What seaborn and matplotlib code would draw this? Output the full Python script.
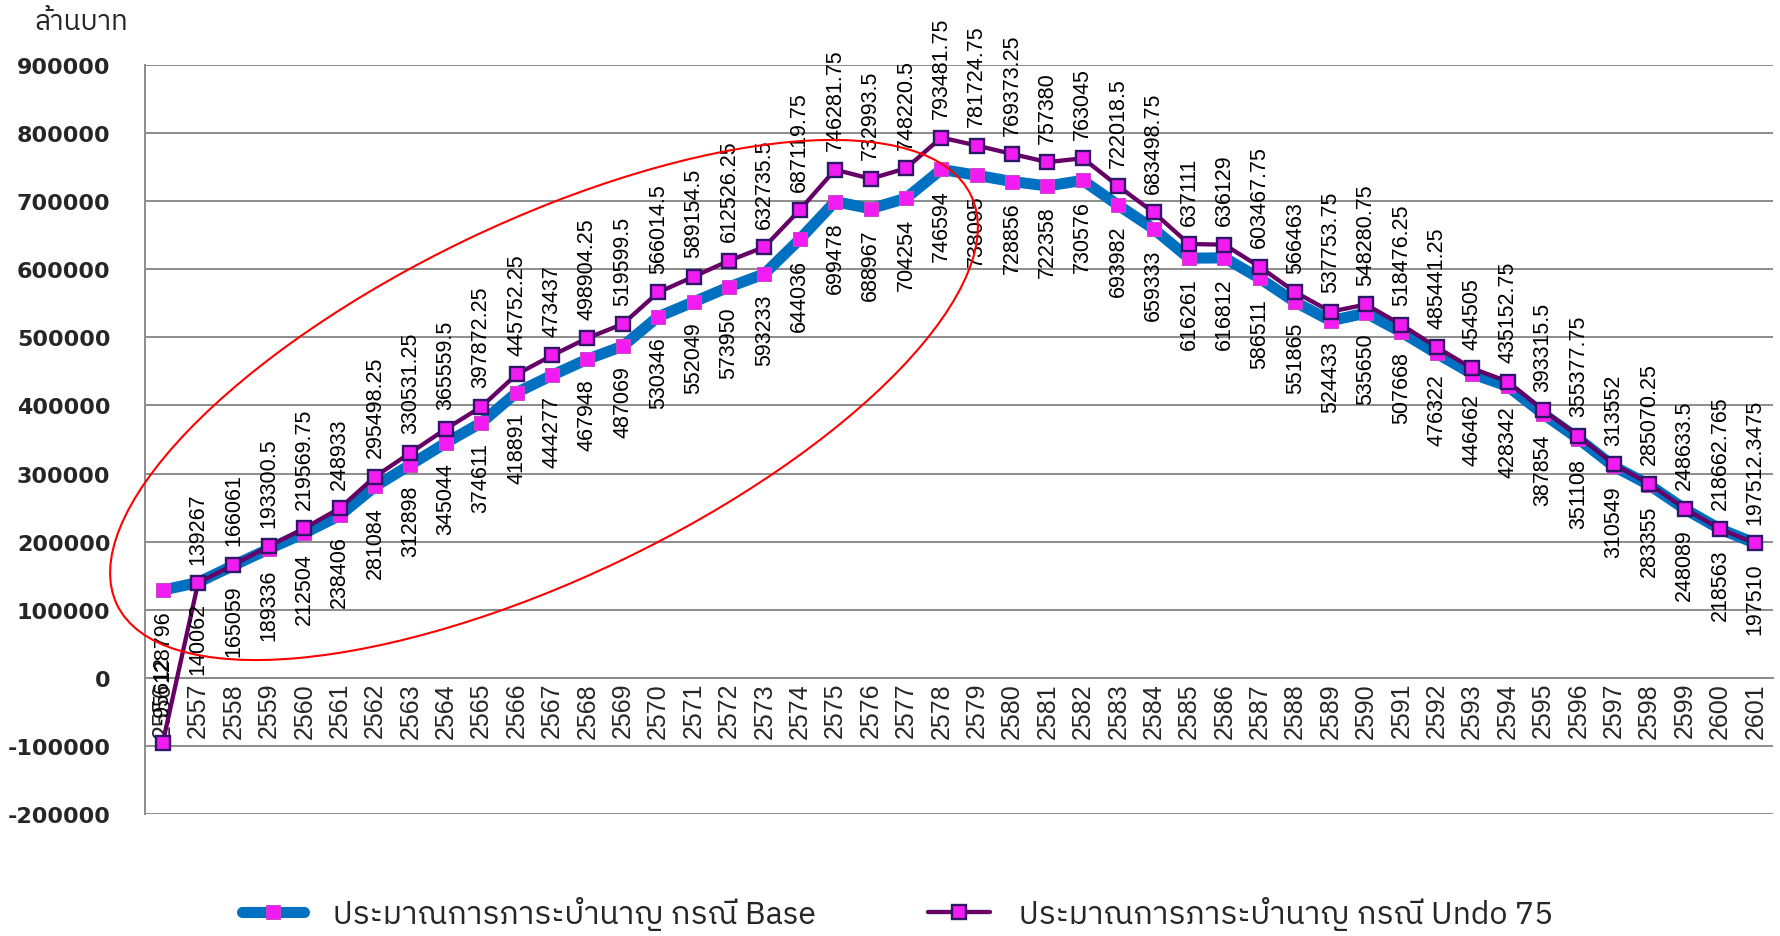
import matplotlib
matplotlib.use('Agg')
import matplotlib.pyplot as plt
import seaborn as sns
import numpy as np
import pandas as pd
from matplotlib import font_manager
from matplotlib.ft2font import FT2Font
from matplotlib.patches import Ellipse
from matplotlib.lines import Line2D

# ---------------- data ----------------
years = ['2556', '2557', '2558', '2559', '2560', '2561', '2562', '2563', '2564', '2565',
         '2566', '2567', '2568', '2569', '2570', '2571', '2572', '2573', '2574', '2575',
         '2576', '2577', '2578', '2579', '2580', '2581', '2582', '2583', '2584', '2585',
         '2586', '2587', '2588', '2589', '2590', '2591', '2592', '2593', '2594', '2595',
         '2596', '2597', '2598', '2599', '2600', '2601']

base = [128796, 140062, 165059, 189336, 212504, 238406, 281084, 312898, 345044, 374611,
        418891, 444277, 467948, 487069, 530346, 552049, 573950, 593233, 644036, 699478,
        688967, 704254, 746594, 738095, 728856, 722358, 730576, 693982, 659333, 616261,
        616812, 586511, 551865, 524433, 535650, 507668, 476322, 446462, 428342, 387854,
        351108, 310549, 283355, 248089, 218563, 197510]

undo = [-95612, 139267, 166061, 193300.5, 219569.75, 248933, 295498.25, 330531.25, 365559.5, 397872.25,
        445752.25, 473437, 498904.25, 519599.5, 566014.5, 589154.5, 612526.25, 632735.5, 687119.75, 746281.75,
        732993.5, 748220.5, 793481.75, 781724.75, 769373.25, 757380, 763045, 722018.5, 683498.75, 637111,
        636129, 603467.75, 566463, 537753.75, 548280.75, 518476.25, 485441.25, 454505, 435152.75, 393315.5,
        355377.75, 313552, 285070.25, 248633.5, 218662.765, 197512.3475]

yticks = [-200000, -100000, 0, 100000, 200000, 300000, 400000, 500000, 600000, 700000, 800000, 900000]

y_unit = 'ล้านบาท'
label_base = 'ประมาณการภาระบำนาญ กรณี Base'
label_undo = 'ประมาณการภาระบำนาญ กรณี Undo 75'

# ---------------- fonts ----------------
def find_thai_font():
    found = []
    for f in font_manager.fontManager.ttflist:
        try:
            ft = FT2Font(f.fname)
            if ft.get_char_index(0x0E1B) and ft.get_char_index(0x0E33) and ft.get_char_index(0x0E0D):
                found.append(f)
        except Exception:
            pass
    if not found:
        return None
    found.sort(key=lambda f: (0 if 'sans' in f.name.lower() or 'thai' in f.name.lower() else 1,
                              0 if f.weight in (400, 'normal', 'regular') else 1))
    return found[0].name

sns.set_style('white')
thai = find_thai_font()
fam = ['DejaVu Sans'] + ([thai] if thai else [])
thai_fam = ([thai] if thai else []) + ['DejaVu Sans']
num_fam = ['Liberation Sans', 'DejaVu Sans']
plt.rcParams['font.family'] = fam

df = pd.DataFrame({'pos': np.arange(len(years)), 'base': base, 'undo': undo})

W, H = 1781, 937
fig = plt.figure(figsize=(W / 100, H / 100), dpi=100)
ax = fig.add_axes([145 / W, 1 - 815 / H, (1773 - 145) / W, (815 - 66) / H])

blue = '#0070C0'
purple = '#660066'
mag = '#F21CF2'
edge_base = '#C848C8'
edge_undo = '#2E1766'

sns.lineplot(data=df, x='pos', y='base', ax=ax, color=blue, lw=8, marker='s', markersize=9.5,
             markerfacecolor=mag, markeredgecolor=edge_base, markeredgewidth=0.7, zorder=3)
sns.lineplot(data=df, x='pos', y='undo', ax=ax, color=purple, lw=3.1, marker='s', markersize=10.5,
             markerfacecolor=mag, markeredgecolor=edge_undo, markeredgewidth=1.7, zorder=4)

def fmt(v):
    return str(int(v)) if float(v).is_integer() else str(v)

for i, v in enumerate(undo):
    ax.annotate(fmt(v), (i, v), xytext=(0, 14), textcoords='offset points', rotation=90,
                ha='center', va='bottom', fontsize=15.5, family=num_fam, color='black', zorder=5)
for i, v in enumerate(base):
    ax.annotate(fmt(v), (i, v), xytext=(0, -14), textcoords='offset points', rotation=90,
                ha='center', va='top', fontsize=15.5, family=num_fam, color='black', zorder=5)

# axes styling
ax.set_xlim(-0.5, len(years) - 0.5)
ax.set_ylim(-200000, 900000)
ax.set_yticks(yticks)
ax.set_yticklabels([str(t) for t in yticks], fontsize=16, fontweight='bold')
ax.yaxis.grid(True, color='#8C8C8C', lw=1.4)
ax.set_axisbelow(True)
ax.set_xlabel('')
ax.set_ylabel('')

ax.spines['top'].set_visible(False)
ax.spines['right'].set_visible(False)
ax.spines['bottom'].set_position(('data', 0))
for s in ('left', 'bottom'):
    ax.spines[s].set_color('#8C8C8C')
    ax.spines[s].set_linewidth(1.4)

ax.set_xticks(np.arange(len(years)))
ax.set_xticklabels(years, rotation=90, fontsize=18, family=num_fam)
ax.set_xticks(np.arange(len(years) + 1) - 0.5, minor=True)
ax.tick_params(axis='x', which='major', length=0, pad=3)
ax.tick_params(axis='x', which='minor', length=6, width=1.4, color='#8C8C8C', direction='out')
ax.tick_params(axis='y', which='major', length=6, width=1.4, color='#8C8C8C', direction='out', pad=19)
for lbl in ax.get_xticklabels():
    lbl.set_verticalalignment('top')

fig.text(34 / W, 1 - 23 / H, y_unit, fontsize=20, va='center', ha='left', family=thai_fam)

# hand-drawn red ellipse annotation
ell = Ellipse((5.44, (H - 401) / 100), width=9.47, height=3.56, angle=25.6,
              transform=fig.dpi_scale_trans, fill=False, edgecolor='red', lw=1.5, zorder=10)
fig.add_artist(ell)

handles = [
    Line2D([], [], color=blue, lw=8, marker='s', markersize=9.5, markerfacecolor=mag,
           markeredgecolor=edge_base, markeredgewidth=0.7),
    Line2D([], [], color=purple, lw=3.1, marker='s', markersize=10.5, markerfacecolor=mag,
           markeredgecolor=edge_undo, markeredgewidth=1.7),
]
fig.legend(handles, [label_base, label_undo], loc='center', bbox_to_anchor=(0.504, 23 / H),
           ncol=2, frameon=False, handlelength=1.95, columnspacing=3.5, handletextpad=0.9,
           prop={'family': thai_fam, 'size': 23})

fig.savefig('out.png', dpi=100)
